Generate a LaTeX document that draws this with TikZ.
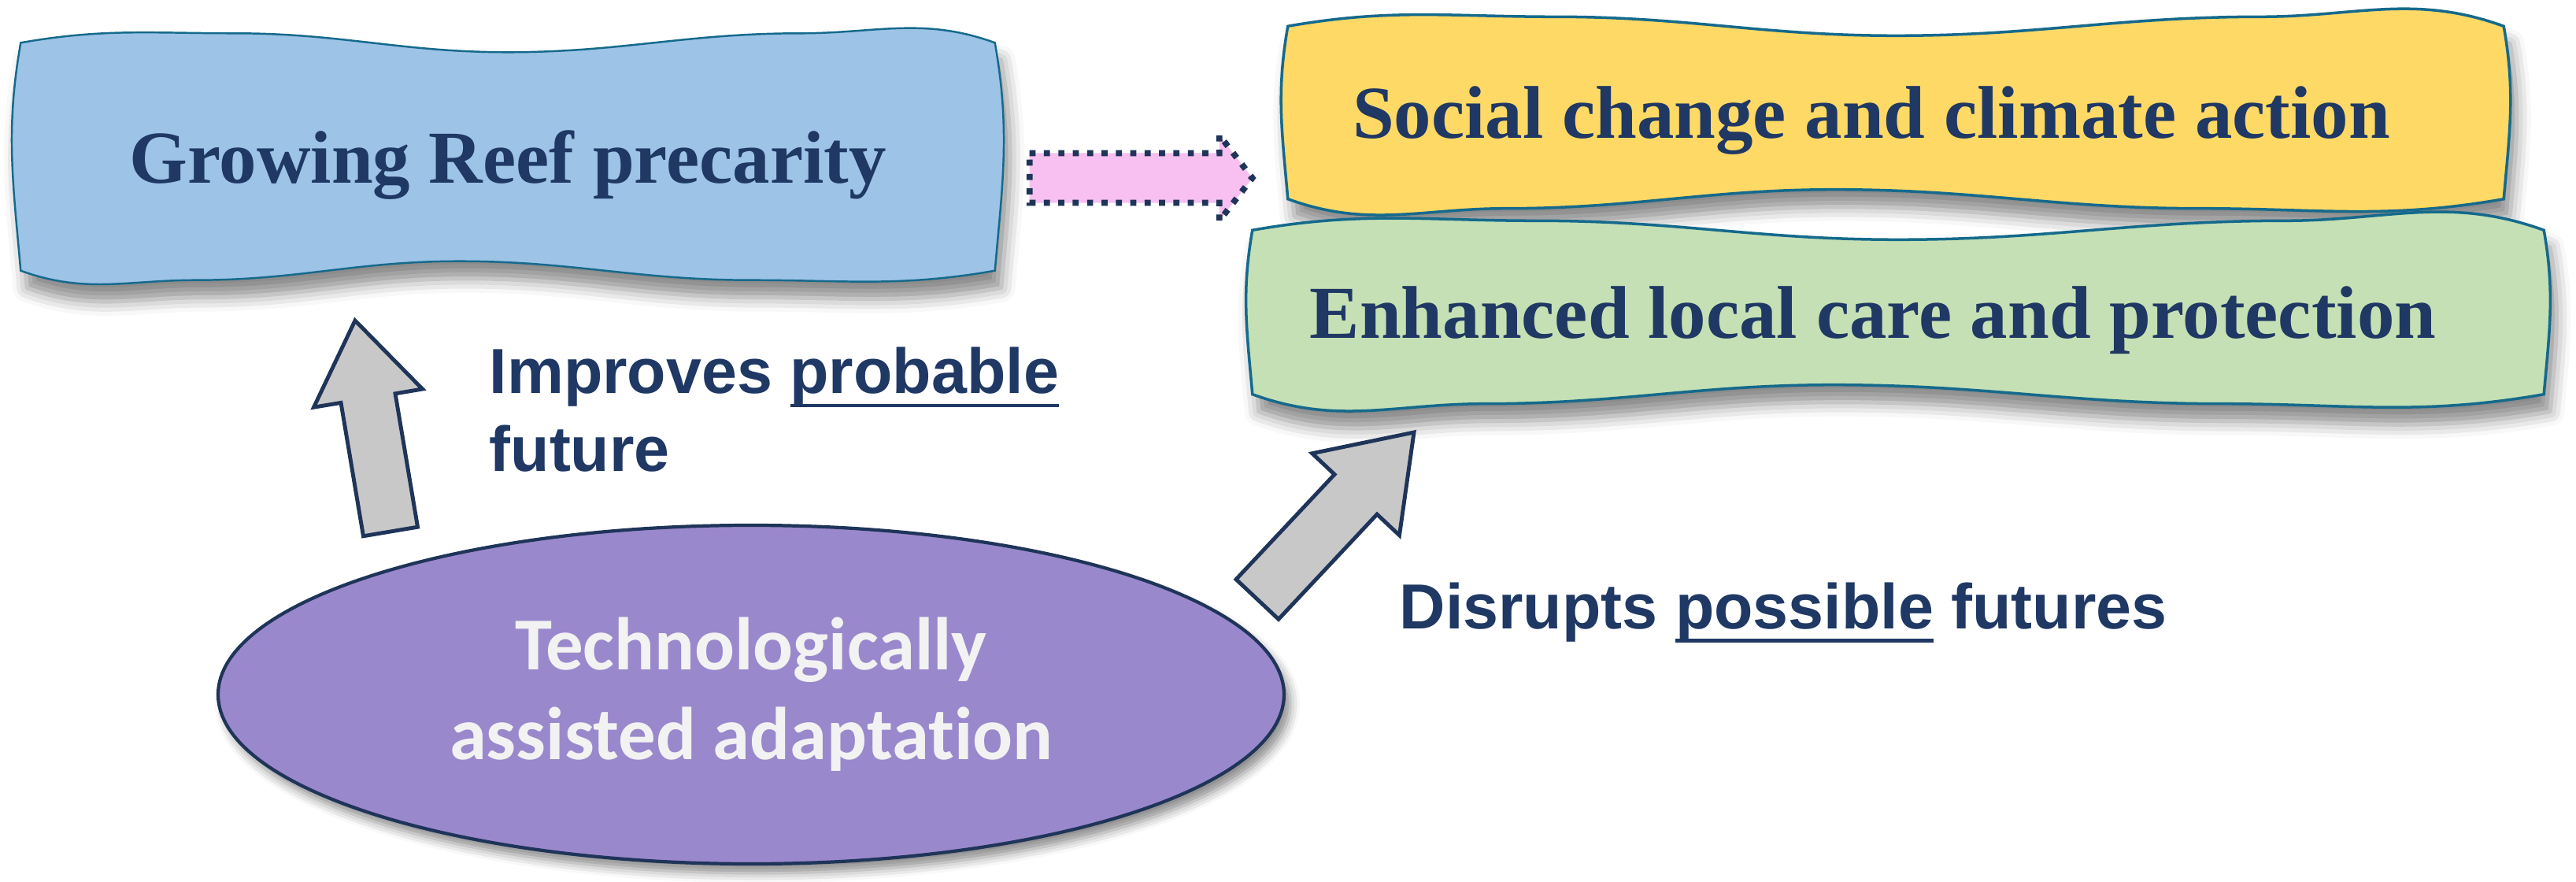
\documentclass[tikz,border=0pt]{standalone}
\usepackage{fontspec}
\setmainfont{Liberation Serif}
\setsansfont{Liberation Sans}
\newfontfamily\techfont{Carlito}[Ligatures=NoCommon]
\usetikzlibrary{calc,shapes.geometric,shadows.blur}

\definecolor{reefblue}{HTML}{9DC3E6}
\definecolor{socialyellow}{HTML}{FFD966}
\definecolor{caregreen}{HTML}{C5E0B4}
\definecolor{techpurple}{HTML}{9A88CC}
\definecolor{pinkfill}{HTML}{F7C0F0}
\definecolor{arrowgray}{HTML}{C8C8C8}
\definecolor{navy}{HTML}{1F3459}
\definecolor{textnavy}{HTML}{1F3864}
\definecolor{boxline}{HTML}{156A8C}
\definecolor{techwhite}{HTML}{F2F2F2}

% underline under one word of a label
\newcommand{\futureline}[1]{\setbox0\hbox{#1}\rlap{\rule[-0.22em]{\wd0}{0.055em}}\box0\relax}

% wavy outline round a frame node
\newcommand{\wavybox}[2][]{%
  \path[#1] (#2.north west)
    to[out=10,in=180] ($(#2.north west)!.22!(#2.north east)+(0,0.12)$)
    to[out=0,in=180] ($(#2.north west)!.5!(#2.north east)+(0,-0.12)$)
    to[out=0,in=180] ($(#2.north west)!.8!(#2.north east)+(0,0.12)$)
    to[out=0,in=160] (#2.north east)
    to[out=-80,in=85] (#2.south east)
    to[out=190,in=0] ($(#2.south west)!.75!(#2.south east)+(0,-0.12)$)
    to[out=180,in=0] ($(#2.south west)!.45!(#2.south east)+(0,0.12)$)
    to[out=180,in=0] ($(#2.south west)!.18!(#2.south east)+(0,-0.12)$)
    to[out=180,in=-20] (#2.south west)
    to[out=95,in=-100] (#2.north west) -- cycle;}

% block arrow: from, to, shaft half width, head half width, head length
\newcommand{\blockarrow}[6][]{%
  \coordinate (#2-h) at ($(#3)!#6!(#2)$);
  \draw[#1] ($(#2)!#4!90:(#3)$) -- ($(#2-h)!#4!90:(#3)$) -- ($(#2-h)!#5!90:(#3)$) -- (#3)
    -- ($(#2-h)!#5!-90:(#3)$) -- ($(#2-h)!#4!-90:(#3)$) -- ($(#2)!#4!-90:(#3)$) -- cycle;}

\begin{document}
\begin{tikzpicture}[
  boxframe/.style = {inner sep=0pt},
  boxtext/.style = {font=\bfseries\fontsize{27pt}{32pt}\selectfont, text=textnavy,
    text depth=0pt, inner sep=0pt},
  boxedge/.style = {draw=boxline, line width=1pt,
    blur shadow={shadow xshift=0.08cm, shadow yshift=-0.22cm, shadow blur radius=0.18cm, shadow opacity=45}},
  labeltext/.style = {font=\sffamily\bfseries\fontsize{23pt}{28pt}\selectfont, text=textnavy,
    align=left, inner sep=0pt},
  fatarrow/.style = {draw=navy, fill=arrowgray, line width=1.4pt, line join=miter},
  dotarrow/.style = {draw=navy, fill=pinkfill, line width=2.2pt, dash pattern=on 2.2pt off 3pt}]

  \useasboundingbox (0,0) rectangle (32.72,11.19);

  % futures
  \node[boxframe, minimum width=12.36cm, minimum height=2.88cm] (reef) at (6.45,9.20) {};
  \node[boxframe, minimum width=15.43cm, minimum height=2.18cm] (social) at (24.08,9.76) {};
  \node[boxframe, minimum width=16.39cm, minimum height=2.07cm] (care) at (24.11,7.225) {};
  \wavybox[boxedge, fill=reefblue, line width=0.7pt]{reef}
  \wavybox[boxedge, fill=socialyellow]{social}
  \wavybox[boxedge, fill=caregreen]{care}
  \node[boxtext] (reef-text) at (reef) {Growing Reef precarity};
  \node[boxtext] (social-text) at (23.77,9.76) {Social change and climate action};
  \node[boxtext] (care-text) at (23.79,7.225) {Enhanced local care and protection};

  % adaptation
  \node[ellipse, draw=navy, fill=techpurple, line width=1.2pt,
    minimum width=13.54cm, minimum height=4.3cm,
    blur shadow={shadow xshift=0.08cm, shadow yshift=-0.12cm, shadow blur radius=0.12cm, shadow opacity=45},
    font=\techfont\bfseries\fontsize{27pt}{32.4pt}\selectfont, text=techwhite, align=center]
    (tech) at (9.54,2.37) {Technologically\\assisted adaptation};

  % labels
  \node[labeltext, anchor=west] (improves) at (6.21,5.99) {Improves \futureline{probable}\\future};
  \node[labeltext, anchor=base west] (disrupts) at (17.77,3.21) {Disrupts \futureline{possible} futures};

  % arrows
  \coordinate (upfrom) at (4.96,4.44);
  \coordinate (upto) at (4.51,7.12);
  \blockarrow[fatarrow]{upfrom}{upto}{0.35cm}{0.7cm}{1cm}
  \coordinate (diagfrom) at (15.97,3.58);
  \coordinate (diagto) at (17.96,5.70);
  \blockarrow[fatarrow]{diagfrom}{diagto}{0.37cm}{0.76cm}{1.08cm}
  \path (reef.east) ++(0.44,-0.27) coordinate (pinkfrom) ++(2.83,0) coordinate (pinkto);
  \blockarrow[dotarrow]{pinkfrom}{pinkto}{0.315cm}{0.545cm}{0.42cm}
\end{tikzpicture}
\end{document}
